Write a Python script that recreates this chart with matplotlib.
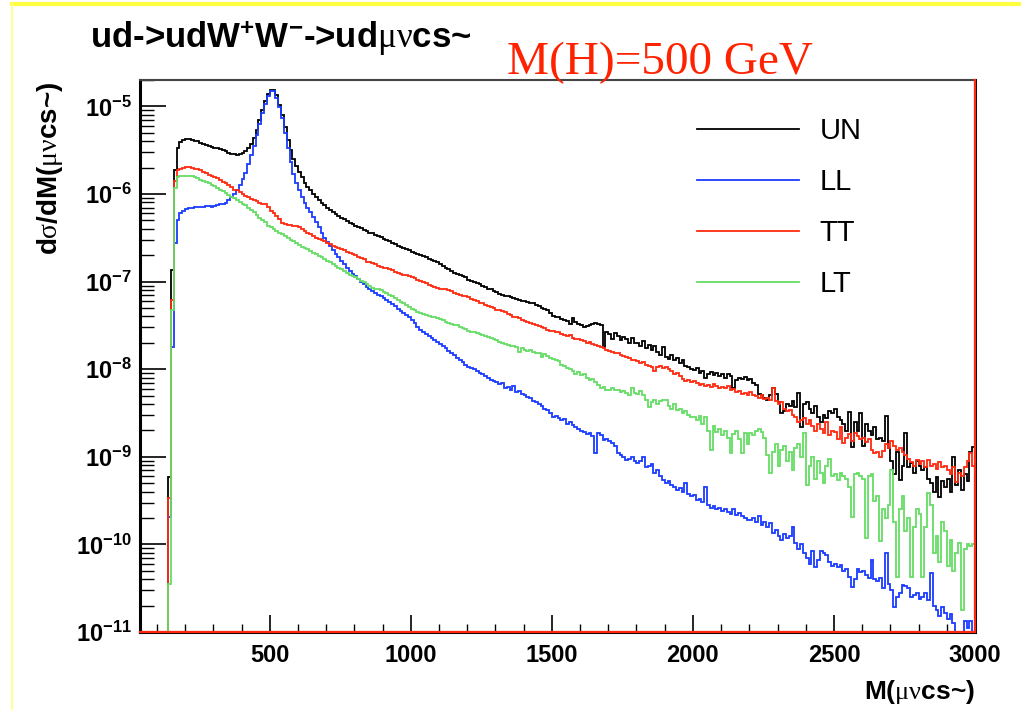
import numpy as np
import matplotlib
matplotlib.use('Agg')
import matplotlib.pyplot as plt
from matplotlib.lines import Line2D
from matplotlib.ticker import MultipleLocator, LogLocator, FixedLocator, FuncFormatter, NullFormatter

plt.rcParams['font.family'] = ['Liberation Sans', 'DejaVu Sans']
plt.rcParams['mathtext.fontset'] = 'custom'
plt.rcParams['mathtext.rm'] = 'Liberation Serif'
plt.rcParams['mathtext.it'] = 'Liberation Serif:italic'
plt.rcParams['mathtext.bf'] = 'Liberation Sans:bold'

# bins of 10 GeV, first bin 140-150, last 2990-3000
edges = np.arange(140, 3001, 10)

# log10(dsigma/dM) per bin, one row = 100 GeV (first row 140-190)
un_log = [
    -9.23, -6.87, -5.73, -5.48, -5.41, -5.38,
    -5.37, -5.37, -5.38, -5.39, -5.40, -5.42, -5.43, -5.44, -5.45, -5.46,
    -5.47, -5.48, -5.49, -5.50, -5.51, -5.53, -5.54, -5.54, -5.55, -5.54,
    -5.53, -5.51, -5.48, -5.43, -5.36, -5.27, -5.15, -5.04, -4.94, -4.86,
    -4.81, -4.81, -4.87, -4.98, -5.10, -5.24, -5.38, -5.50, -5.60, -5.68,
    -5.75, -5.81, -5.87, -5.92, -5.96, -6.00, -6.03, -6.07, -6.10, -6.13,
    -6.16, -6.18, -6.21, -6.23, -6.25, -6.27, -6.29, -6.31, -6.33, -6.34,
    -6.36, -6.38, -6.39, -6.41, -6.42, -6.44, -6.45, -6.47, -6.48, -6.49,
    -6.51, -6.53, -6.54, -6.56, -6.57, -6.59, -6.60, -6.62, -6.63, -6.64,
    -6.66, -6.67, -6.68, -6.70, -6.71, -6.72, -6.74, -6.75, -6.76, -6.78,
    -6.80, -6.82, -6.84, -6.86, -6.88, -6.90, -6.91, -6.93, -6.94, -6.95,
    -6.98, -6.99, -7.00, -7.02, -7.03, -7.05, -7.06, -7.08, -7.09, -7.11,
    -7.12, -7.14, -7.15, -7.16, -7.17, -7.18, -7.19, -7.20, -7.21, -7.22,
    -7.22, -7.23, -7.24, -7.25, -7.27, -7.28, -7.30, -7.31, -7.33, -7.36,
    -7.39, -7.40, -7.41, -7.43, -7.44, -7.45, -7.48, -7.42, -7.46, -7.48,
    -7.50, -7.52, -7.51, -7.49, -7.48, -7.47, -7.48, -7.50, -7.75, -7.58,
    -7.60, -7.66, -7.59, -7.62, -7.67, -7.63, -7.65, -7.70, -7.64, -7.70,
    -7.70, -7.73, -7.68, -7.76, -7.72, -7.78, -7.74, -7.80, -7.84, -7.75,
    -7.86, -7.88, -7.84, -7.90, -7.87, -7.93, -7.90, -7.96, -7.98, -8.00,
    -8.01, -7.99, -8.04, -8.02, -8.10, -8.05, -8.03, -8.07, -8.04, -8.08,
    -8.06, -8.10, -8.05, -8.08, -8.21, -8.12, -8.10, -8.11, -8.09, -8.12,
    -8.11, -8.16, -8.18, -8.28, -8.30, -8.33, -8.35, -8.30, -8.22, -8.28,
    -8.38, -8.50, -8.48, -8.40, -8.42, -8.36, -8.43, -8.27, -8.66, -8.40,
    -8.38, -8.45, -8.50, -8.42, -8.55, -8.60, -8.52, -8.56, -8.48, -8.50,
    -8.45, -8.55, -8.58, -8.62, -8.70, -8.49, -8.89, -8.60, -8.70, -8.50,
    -8.88, -8.62, -8.70, -8.75, -8.66, -8.80, -8.78, -8.82, -8.53, -8.90,
    -9.05, -9.20, -8.95, -9.27, -9.10, -8.73, -9.12, -9.07, -9.18, -9.05,
    -9.10, -9.15, -9.12, -9.25, -9.30, -9.40, -9.23, -9.46, -9.28, -9.35,
    -9.25, -9.40, -9.00, -9.32, -9.15, -9.38, -9.20, -9.28, -8.95, -8.89,
]

ll_log = [
    -9.69, -7.75, -6.56, -6.30, -6.22, -6.19,
    -6.17, -6.16, -6.16, -6.15, -6.15, -6.15, -6.15, -6.14, -6.14, -6.15,
    -6.14, -6.13, -6.12, -6.11, -6.10, -6.07, -6.04, -6.00, -5.95, -5.90,
    -5.83, -5.76, -5.66, -5.56, -5.45, -5.33, -5.20, -5.08, -4.97, -4.88,
    -4.83, -4.83, -4.90, -5.01, -5.13, -5.30, -5.48, -5.63, -5.77, -5.88,
    -5.95, -6.03, -6.10, -6.16, -6.21, -6.26, -6.32, -6.38, -6.44, -6.50,
    -6.55, -6.59, -6.64, -6.68, -6.72, -6.76, -6.80, -6.84, -6.88, -6.91,
    -6.94, -6.97, -7.00, -7.03, -7.06, -7.09, -7.11, -7.13, -7.15, -7.17,
    -7.19, -7.21, -7.23, -7.26, -7.28, -7.31, -7.34, -7.36, -7.38, -7.41,
    -7.44, -7.47, -7.52, -7.55, -7.58, -7.60, -7.62, -7.64, -7.67, -7.69,
    -7.71, -7.73, -7.76, -7.79, -7.82, -7.84, -7.87, -7.90, -7.92, -7.95,
    -7.97, -7.99, -8.00, -8.02, -8.04, -8.05, -8.08, -8.10, -8.12, -8.14,
    -8.15, -8.17, -8.16, -8.22, -8.20, -8.24, -8.19, -8.26, -8.25, -8.28,
    -8.30, -8.32, -8.33, -8.36, -8.38, -8.40, -8.42, -8.45, -8.47, -8.50,
    -8.55, -8.53, -8.56, -8.58, -8.57, -8.62, -8.60, -8.64, -8.66, -8.68,
    -8.70, -8.72, -8.74, -8.73, -8.76, -8.96, -8.73, -8.75, -8.81, -8.80,
    -8.82, -8.84, -8.88, -8.96, -8.98, -9.00, -9.04, -9.02, -9.00, -9.05,
    -9.07, -9.05, -9.00, -9.12, -9.10, -9.08, -9.18, -9.15, -9.22, -9.26,
    -9.30, -9.28, -9.32, -9.35, -9.38, -9.36, -9.40, -9.30, -9.42, -9.45,
    -9.44, -9.49, -9.48, -9.52, -9.35, -9.55, -9.58, -9.56, -9.60, -9.58,
    -9.62, -9.60, -9.63, -9.65, -9.60, -9.66, -9.64, -9.68, -9.70, -9.72,
    -9.72, -9.70, -9.75, -9.68, -9.78, -9.74, -9.80, -9.76, -9.87, -9.84,
    -9.90, -9.95, -9.88, -9.93, -9.90, -9.80, -9.98, -10.05, -10.00, -10.10,
    -10.15, -10.22, -10.08, -10.26, -10.18, -10.07, -10.10, -10.12, -10.20, -10.25,
    -10.22, -10.26, -10.24, -10.30, -10.28, -10.37, -10.49, -10.40, -10.28, -10.32,
    -10.30, -10.35, -10.38, -10.18, -10.40, -10.42, -10.38, -10.50, -10.10, -10.45,
    -10.52, -10.71, -10.60, -10.55, -10.46, -10.48, -10.50, -10.60, -10.58, -10.56,
    -10.62, -10.60, -10.55, -10.64, -10.33, -10.70, -10.75, -10.82, -10.72, -10.78,
    -10.85, -10.80, -10.90, -11.20, -11.20, -11.20, -10.88, -10.95, -10.88, -11.20,
]

tt_log = [
    -9.47, -7.21, -5.85, -5.73, -5.71, -5.70,
    -5.69, -5.69, -5.70, -5.71, -5.72, -5.73, -5.75, -5.76, -5.78, -5.79,
    -5.81, -5.82, -5.84, -5.86, -5.88, -5.90, -5.92, -5.95, -5.96, -5.98,
    -6.00, -6.02, -6.04, -6.06, -6.07, -6.08, -6.10, -6.11, -6.12, -6.15,
    -6.19, -6.22, -6.25, -6.29, -6.33, -6.34, -6.35, -6.35, -6.36, -6.37,
    -6.38, -6.40, -6.42, -6.44, -6.46, -6.48, -6.50, -6.51, -6.52, -6.54,
    -6.56, -6.57, -6.59, -6.60, -6.62, -6.63, -6.64, -6.66, -6.67, -6.69,
    -6.70, -6.72, -6.73, -6.74, -6.78, -6.78, -6.79, -6.80, -6.82, -6.83,
    -6.84, -6.85, -6.86, -6.87, -6.89, -6.90, -6.91, -6.92, -6.93, -6.94,
    -6.95, -6.96, -6.98, -6.99, -7.01, -7.02, -7.04, -7.05, -7.06, -7.07,
    -7.08, -7.08, -7.09, -7.10, -7.11, -7.13, -7.14, -7.15, -7.16, -7.17,
    -7.18, -7.20, -7.21, -7.22, -7.24, -7.25, -7.27, -7.28, -7.29, -7.30,
    -7.32, -7.33, -7.34, -7.35, -7.37, -7.38, -7.40, -7.41, -7.42, -7.44,
    -7.45, -7.46, -7.47, -7.48, -7.49, -7.51, -7.52, -7.53, -7.55, -7.56,
    -7.56, -7.58, -7.57, -7.60, -7.61, -7.62, -7.61, -7.64, -7.65, -7.66,
    -7.67, -7.68, -7.70, -7.69, -7.71, -7.72, -7.74, -7.75, -7.76, -7.78,
    -7.79, -7.80, -7.82, -7.81, -7.84, -7.85, -7.86, -7.87, -7.89, -7.90,
    -7.91, -7.93, -7.92, -7.95, -7.96, -7.97, -8.02, -7.98, -7.96, -7.99,
    -7.97, -8.00, -8.02, -8.06, -8.04, -8.08, -8.11, -8.13, -8.12, -8.15,
    -8.14, -8.16, -8.18, -8.17, -8.19, -8.18, -8.20, -8.17, -8.19, -8.21,
    -8.20, -8.22, -8.19, -8.24, -8.23, -8.26, -8.25, -8.28, -8.27, -8.30,
    -8.26, -8.29, -8.31, -8.33, -8.30, -8.34, -8.33, -8.35, -8.22, -8.36,
    -8.40, -8.38, -8.45, -8.48, -8.47, -8.52, -8.55, -8.60, -8.58, -8.56,
    -8.62, -8.58, -8.65, -8.70, -8.63, -8.68, -8.73, -8.60, -8.75, -8.70,
    -8.72, -8.80, -8.66, -8.84, -8.78, -8.74, -8.82, -8.73, -8.76, -8.80,
    -8.78, -8.83, -8.80, -8.92, -8.96, -8.95, -9.00, -8.93, -8.85, -8.90,
    -8.82, -8.88, -8.92, -8.90, -8.95, -8.98, -9.02, -9.06, -9.10, -9.04,
    -9.08, -9.05, -9.12, -9.04, -9.10, -9.08, -9.14, -9.06, -9.12, -9.10,
    -9.15, -9.20, -9.12, -9.29, -9.18, -9.22, -9.12, -9.05, -8.96, -9.10,
]

lt_log = [
    -10.45, -7.33, -5.93, -5.81, -5.80, -5.79,
    -5.79, -5.79, -5.80, -5.81, -5.82, -5.84, -5.85, -5.86, -5.88, -5.90,
    -5.91, -5.93, -5.95, -5.97, -5.99, -6.01, -6.03, -6.05, -6.07, -6.09,
    -6.11, -6.13, -6.16, -6.18, -6.21, -6.24, -6.27, -6.30, -6.32, -6.36,
    -6.38, -6.40, -6.42, -6.44, -6.46, -6.48, -6.50, -6.52, -6.54, -6.56,
    -6.58, -6.60, -6.62, -6.63, -6.65, -6.67, -6.69, -6.71, -6.72, -6.74,
    -6.76, -6.78, -6.80, -6.82, -6.84, -6.86, -6.88, -6.90, -6.92, -6.94,
    -6.95, -6.97, -6.99, -7.01, -7.03, -7.05, -7.07, -7.08, -7.09, -7.10,
    -7.12, -7.13, -7.15, -7.17, -7.19, -7.21, -7.23, -7.25, -7.27, -7.29,
    -7.31, -7.33, -7.35, -7.36, -7.37, -7.38, -7.39, -7.40, -7.41, -7.42,
    -7.43, -7.44, -7.46, -7.47, -7.48, -7.49, -7.50, -7.52, -7.53, -7.54,
    -7.56, -7.57, -7.58, -7.59, -7.60, -7.61, -7.62, -7.63, -7.64, -7.66,
    -7.67, -7.69, -7.70, -7.71, -7.72, -7.73, -7.74, -7.75, -7.80, -7.76,
    -7.78, -7.79, -7.78, -7.80, -7.81, -7.82, -7.86, -7.83, -7.85, -7.87,
    -7.88, -7.90, -7.91, -7.95, -7.96, -7.99, -8.00, -8.02, -8.05, -8.03,
    -8.07, -8.05, -8.10, -8.12, -8.11, -8.15, -8.18, -8.21, -8.20, -8.24,
    -8.24, -8.22, -8.24, -8.24, -8.26, -8.25, -8.27, -8.30, -8.22, -8.27,
    -8.28, -8.25, -8.30, -8.35, -8.43, -8.38, -8.35, -8.40, -8.36, -8.35,
    -8.35, -8.42, -8.45, -8.40, -8.47, -8.46, -8.50, -8.48, -8.52, -8.55,
    -8.55, -8.58, -8.53, -8.62, -8.55, -8.70, -8.92, -8.65, -8.72, -8.68,
    -8.75, -8.70, -8.78, -8.96, -8.74, -8.70, -8.80, -8.96, -8.73, -8.85,
    -8.73, -8.75, -8.70, -8.68, -8.72, -8.78, -8.98, -9.19, -8.95, -8.85,
    -9.10, -8.92, -8.88, -9.05, -8.95, -9.15, -8.90, -8.85, -9.00, -8.73,
    -9.32, -9.10, -9.00, -9.25, -9.05, -9.18, -9.30, -9.10, -9.02, -9.22,
    -9.20, -9.27, -9.19, -9.22, -9.25, -9.35, -9.69, -9.20, -9.18, -9.22,
    -9.25, -9.93, -9.22, -9.20, -9.50, -9.45, -9.96, -9.60, -9.70, -9.55,
    -9.15, -9.75, -10.37, -9.60, -9.45, -9.85, -9.70, -10.37, -9.80, -9.60,
    -9.65, -10.37, -9.80, -9.41, -9.55, -10.10, -9.90, -10.20, -9.75, -9.85,
    -10.25, -9.95, -10.30, -10.10, -9.98, -10.75, -10.05, -10.00, -10.02, -9.99,
]

labels = ['UN', 'LL', 'TT', 'LT']
colors = ['black', '#1a3cff', '#ff2a10', '#66dd66']
series = [un_log, ll_log, tt_log, lt_log]

ymin, ymax = 1e-11, 2e-5

fig = plt.figure(figsize=(10.21, 7.10), dpi=100)
ax = fig.add_axes([140/1021, 78/710, 835/1021, 552/710])

for vals, col in zip(series, colors):
    ax.stairs(10.0 ** np.array(vals), edges, baseline=ymin, color=col, lw=1.3)

ax.set_yscale('log')
ax.set_xlim(40, 3000)
ax.set_ylim(ymin, ymax)

# rode rand onder en rechts, zoals in het origineel
ax.plot([40, 3000], [ymin, ymin], color='#ff2a10', lw=1.6, clip_on=False, zorder=6)
ax.plot([3000, 3000], [ymin, ymax], color='#ff2a10', lw=1.6, clip_on=False, zorder=6)

ax.xaxis.set_major_locator(MultipleLocator(500))
ax.xaxis.set_minor_locator(MultipleLocator(100))
ax.yaxis.set_major_locator(FixedLocator([10.0 ** k for k in range(-11, -4)]))
ax.yaxis.set_minor_locator(LogLocator(base=10, subs=np.arange(2, 10)))
ax.yaxis.set_minor_formatter(NullFormatter())
ax.yaxis.set_major_formatter(FuncFormatter(lambda v, p: r'$\mathbf{10^{%d}}$' % round(np.log10(v))))
ax.xaxis.set_major_formatter(FuncFormatter(lambda v, p: '%d' % v))

ax.tick_params(axis='x', which='major', direction='in', length=12, width=1.2, pad=9,
               labelsize=17, top=False)
ax.tick_params(axis='x', which='minor', direction='in', length=6, width=1.0, top=False)
ax.tick_params(axis='y', which='major', direction='in', length=19, width=1.2, pad=6,
               labelsize=17, right=False)
ax.tick_params(axis='y', which='minor', direction='in', length=10, width=1.0, right=False)
for lab in ax.get_xticklabels():
    lab.set_fontweight('bold')

for side in ['left', 'bottom', 'right']:
    ax.spines[side].set_linewidth(2.2)
    ax.spines[side].set_color('black')
ax.spines['top'].set_color('#444444')
ax.spines['top'].set_linewidth(1.5)

handles = [Line2D([], [], color=c, lw=1.3) for c in colors]
ax.legend(handles, labels, loc='upper left', bbox_to_anchor=(697/1021, 1 - 117/710),
          bbox_transform=fig.transFigure, frameon=False, fontsize=21,
          handlelength=3.5, handletextpad=0.7, labelspacing=0.79,
          borderpad=0, borderaxespad=0)

fig.text(90/1021, 1 - 48/710, r'ud->udW$^{\mathbf{+}}$W$^{\mathbf{-}}$->ud$\mathrm{\mu\nu}$cs~',
         fontsize=25, fontweight='bold', ha='left', va='baseline')
fig.text(507/1021, 1 - 74/710, 'M(H)=500 GeV', fontsize=34, color='#ff2200',
         family='Liberation Serif', ha='left', va='baseline')
fig.text(50/1021, 1 - 82/710, r'd$\mathrm{\sigma}$/dM($\mathrm{\mu\nu}$cs~)', fontsize=20,
         fontweight='bold', rotation=90, ha='center', va='top')
fig.text(975/1021, 1 - 692/710, r'M($\mathrm{\mu\nu}$cs~)', fontsize=19,
         fontweight='bold', ha='right', va='center')

# gele rand van de dia
fig.add_artist(Line2D([12/1021, 1], [1 - 4/710, 1 - 4/710], color='#ffff40', lw=3))
fig.add_artist(Line2D([12/1021, 12/1021], [0, 1 - 4/710], color='#ffff80', lw=1.2))

fig.savefig('out.png', dpi=100)
